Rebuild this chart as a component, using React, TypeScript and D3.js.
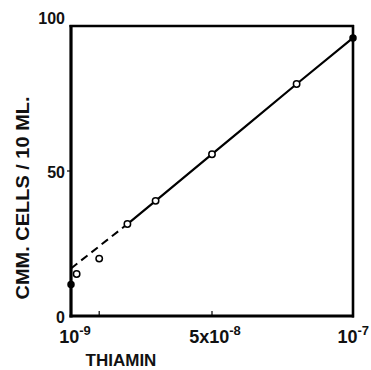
import React from "react";
import * as d3 from "d3";

// Thiamin concentration in units of 1e-8
const thiamin = [0, 0.2, 1, 2, 3, 5, 8, 10];
const cells = [10.9, 14.5, 19.8, 31.7, 39.7, 55.8, 80, 95.9];
const filled = [true, false, false, false, false, false, false, true];
const dashedX = [0, 2];
const dashedY = [16.4, 31.7];
const solidX = [2, 3, 5, 8, 10];
const solidY = [31.7, 39.7, 55.8, 80, 95.9];
const yTicks = [0, 50, 100];
const xTickLabels = [
  { v: 0, base: "10", sup: "-9" },
  { v: 5, base: "5x10", sup: "-8" },
  { v: 10, base: "10", sup: "-7" },
];
const minorX = [1, 5];

export default function App() {
  const W = 371, H = 370;
  const L = 71, R = 353, T = 26, B = 316;
  const x = d3.scaleLinear().domain([0, 10]).range([L, R]);
  const y = d3.scaleLinear().domain([0, 100]).range([B, T]);
  const mk = (xs: number[], ys: number[]) =>
    d3.line<number>()
      .x((_, i) => x(xs[i]))
      .y((_, i) => y(ys[i]))
      .curve(d3.curveMonotoneX)(xs) as string;
  const font = "'Liberation Sans', Arial, sans-serif";
  return (
    <svg width={W} height={H} style={{ position: "absolute", left: 0, top: 0, background: "#fff" }}>
      <rect x={0} y={0} width={W} height={H} fill="#fff" />
      {/* frame */}
      <line x1={L} y1={T - 1} x2={L} y2={B + 1.5} stroke="#000" strokeWidth={3.2} />
      <line x1={L - 1.5} y1={B} x2={R + 1} y2={B} stroke="#000" strokeWidth={3.2} />
      <line x1={L - 1.5} y1={T} x2={R + 1} y2={T} stroke="#000" strokeWidth={2.6} />
      <line x1={R} y1={T - 1} x2={R} y2={B + 1.5} stroke="#000" strokeWidth={2.6} />
      {minorX.map((v) => (
        <line key={v} x1={x(v)} x2={x(v)} y1={B} y2={B - 5} stroke="#000" strokeWidth={1.2} />
      ))}
      <line x1={L} x2={L - 4} y1={y(50)} y2={y(50)} stroke="#000" strokeWidth={1.2} />
      {/* lines */}
      <path d={mk(dashedX, dashedY)} fill="none" stroke="#000" strokeWidth={2} strokeDasharray="8,5" />
      <path d={mk(solidX, solidY)} fill="none" stroke="#000" strokeWidth={2.2} />
      {/* points */}
      {thiamin.map((v, i) => (
        <circle
          key={i}
          cx={x(v)}
          cy={y(cells[i])}
          r={filled[i] ? 3 : 3.2}
          fill={filled[i] ? "#000" : "#fff"}
          stroke="#000"
          strokeWidth={1.5}
        />
      ))}
      {/* y tick labels */}
      {yTicks.map((t) => (
        <text
          key={t}
          x={L - 6}
          y={t === 100 ? T - 2 : y(t) + 7}
          textAnchor="end"
          fontFamily={font}
          fontSize={16}
          fontWeight="bold"
          fill="#111"
        >
          {t}
        </text>
      ))}
      {/* x tick labels */}
      {xTickLabels.map((t) => (
        <text
          key={t.v}
          x={t.v === 10 ? W - 2 : x(t.v) + (t.v === 0 ? 4 : 3)}
          y={343}
          textAnchor={t.v === 10 ? "end" : "middle"}
          fontFamily={font}
          fontSize={18}
          fontWeight="bold"
          fill="#111"
        >
          {t.base}
          <tspan dy={-8} fontSize={13}>
            {t.sup}
          </tspan>
        </text>
      ))}
      <text x={121} y={366} textAnchor="middle" fontFamily={font} fontSize={17} fontWeight="bold" fill="#111">
        THIAMIN
      </text>
      <text
        transform={`translate(29, 198) rotate(-90)`}
        textAnchor="middle"
        fontFamily={font}
        fontSize={19}
        fontWeight="bold"
        fill="#111"
        textLength={203}
        lengthAdjust="spacingAndGlyphs"
      >
        CMM. CELLS / 10 ML.
      </text>
    </svg>
  );
}
